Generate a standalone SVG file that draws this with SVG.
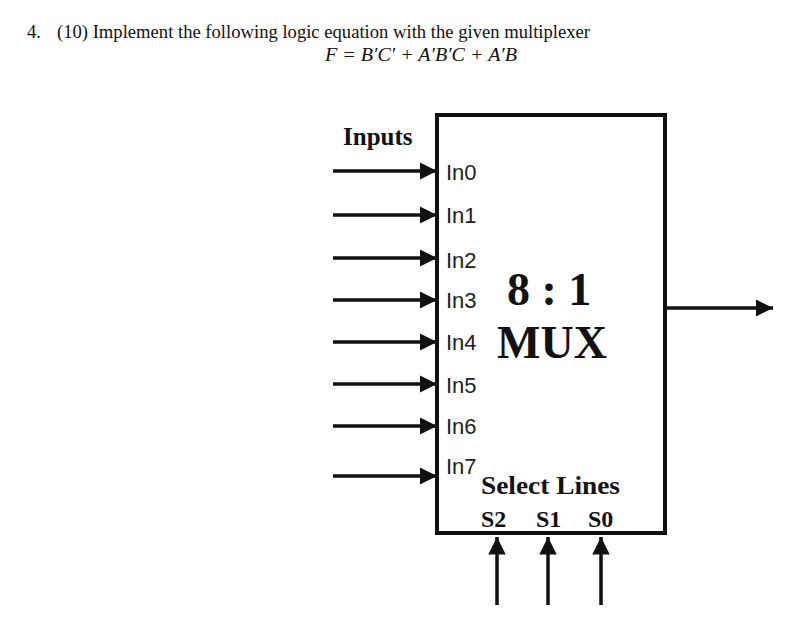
<svg xmlns="http://www.w3.org/2000/svg" width="810" height="633" viewBox="0 0 810 633">
<defs>
<marker id="ah" viewBox="0 0 10 10" refX="10" refY="5" markerWidth="5" markerHeight="5" markerUnits="strokeWidth" orient="auto">
<path d="M0,0 L10,5 L0,10 z" fill="#111"/>
</marker>
<style>
.t{font-family:"Liberation Serif",serif;fill:#111}
.s{font-family:"Liberation Sans",sans-serif;font-size:22px;fill:#222}
.w{stroke:#111;stroke-width:3.5;fill:none;marker-end:url(#ah)}
</style>
</defs>
<rect width="810" height="633" fill="#fff"/>
<text class="t" x="27" y="38" font-size="18.5">4.</text>
<text class="t" x="57" y="38" font-size="18.5" textLength="533" lengthAdjust="spacingAndGlyphs">(10) Implement the following logic equation with the given multiplexer</text>
<text class="t" x="325" y="61" font-size="19" font-style="italic" textLength="192" lengthAdjust="spacingAndGlyphs">F = B′C′ + A′B′C + A′B</text>
<g id="mux">
<rect x="437" y="115" width="228" height="418" fill="#fff" stroke="#111" stroke-width="4"/>
<text class="t" x="507" y="305" font-size="46" font-weight="bold">8 : 1</text>
<text class="t" x="497" y="358" font-size="46" font-weight="bold">MUX</text>
<text class="t" x="481" y="494" font-size="26" font-weight="bold" textLength="139" lengthAdjust="spacingAndGlyphs">Select Lines</text>
<text class="t" x="481" y="527" font-size="24" font-weight="bold">S2</text>
<text class="t" x="536" y="527" font-size="24" font-weight="bold">S1</text>
<text class="t" x="588" y="527" font-size="24" font-weight="bold">S0</text>
<text class="s" x="446" y="180">In0</text>
<text class="s" x="446" y="223">In1</text>
<text class="s" x="446" y="268">In2</text>
<text class="s" x="446" y="308">In3</text>
<text class="s" x="446" y="350">In4</text>
<text class="s" x="446" y="393">In5</text>
<text class="s" x="446" y="434">In6</text>
<text class="s" x="446" y="474">In7</text>
</g>
<g id="inputs-label">
<text class="t" x="343" y="145" font-size="25" font-weight="bold">Inputs</text>
</g>
<g id="connectors">
<line class="w" x1="333" y1="171" x2="437" y2="171"/>
<line class="w" x1="333" y1="215" x2="437" y2="215"/>
<line class="w" x1="333" y1="258" x2="437" y2="258"/>
<line class="w" x1="333" y1="300" x2="437" y2="300"/>
<line class="w" x1="333" y1="342" x2="437" y2="342"/>
<line class="w" x1="333" y1="384" x2="437" y2="384"/>
<line class="w" x1="333" y1="426" x2="437" y2="426"/>
<line class="w" x1="333" y1="476" x2="437" y2="476"/>
<line class="w" x1="665" y1="308" x2="773" y2="308"/>
<line class="w" x1="497" y1="605" x2="497" y2="537"/>
<line class="w" x1="548" y1="605" x2="548" y2="537"/>
<line class="w" x1="601" y1="605" x2="601" y2="537"/>
</g>
</svg>
